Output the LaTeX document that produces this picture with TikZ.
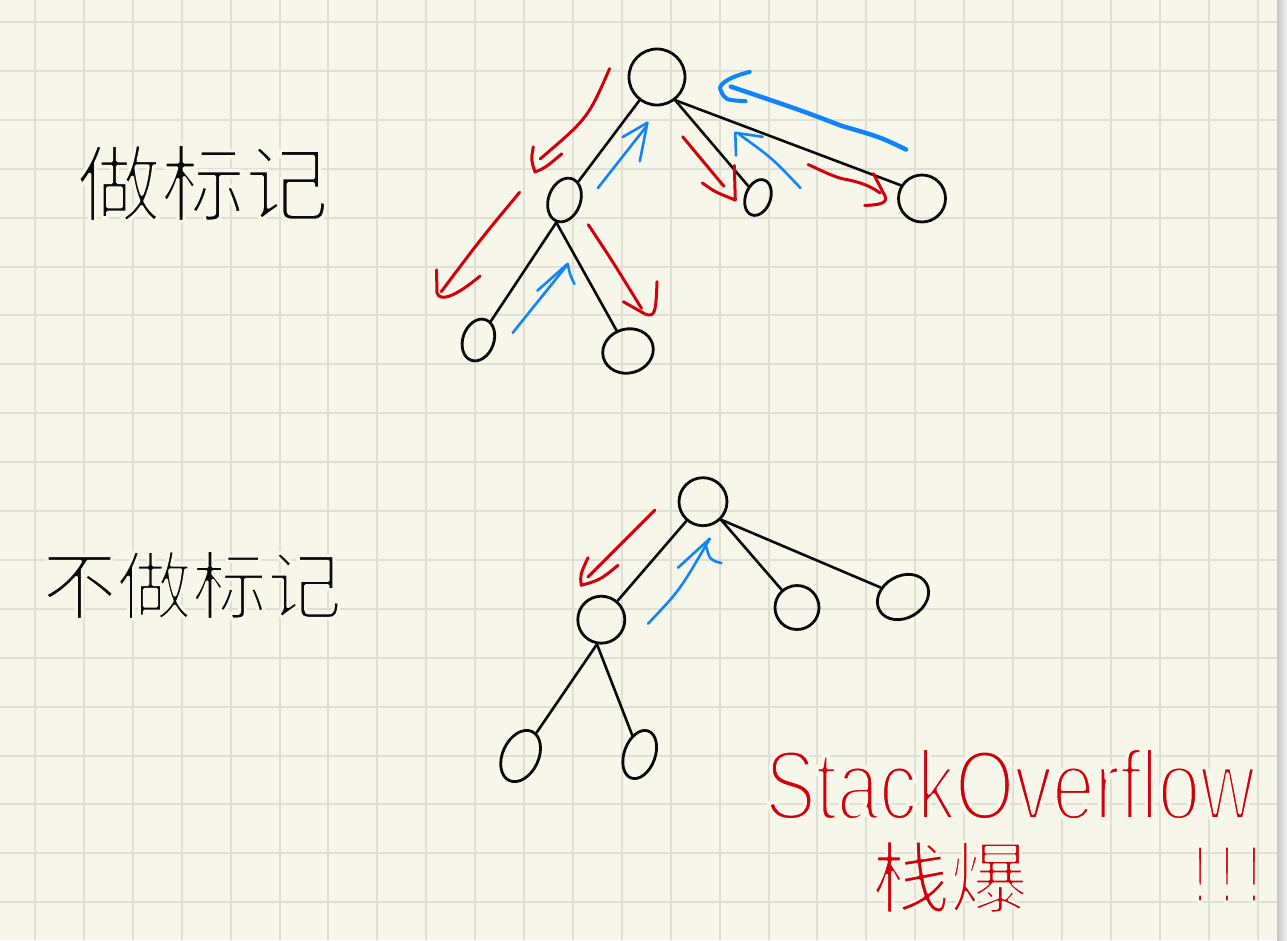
\documentclass[tikz,border=0pt]{standalone}
\usepackage{fontspec}
\usepackage{graphicx}
\usetikzlibrary{shapes.geometric}
\newfontfamily\cjk{Noto Sans CJK SC}
\newfontfamily\latinhand{Liberation Sans}
\newcommand\erodeglyph[1]{\special{pdf:literal direct 2 Tr 1 j #1 w 0.9686 0.9647 0.9176 RG}}
\definecolor{paper}{RGB}{247,246,234}
\definecolor{gridc}{RGB}{223,223,211}
\definecolor{penred}{RGB}{210,0,10}
\definecolor{penblue}{RGB}{18,132,250}
\definecolor{ink}{RGB}{10,10,10}
\begin{document}
\begin{tikzpicture}[x=1pt,y=-1pt,
  nd/.style={draw=ink, line width=2.8pt, inner sep=0pt},
  edge/.style={draw=ink, line width=2.6pt, line cap=round},
  redstroke/.style={draw=penred, line width=3pt, line cap=round, line join=round},
  bluestroke/.style={draw=penblue, line width=2.6pt, line cap=round, line join=round},
  hand/.style={inner sep=0pt}
]
\useasboundingbox (0,0) rectangle (1287,940);
% paper
\fill[paper] (0,0) rectangle (1277,940);
\shade[left color=black!22, right color=black!6] (1277,0) rectangle (1287,940);
\foreach \i in {0,...,25} \draw[gridc, line width=2pt] ({35+48.9*\i},0) -- ({35+48.9*\i},940);
\foreach \j in {0,...,18} \draw[gridc, line width=2pt] (0,{22+48.9*\j}) -- (1277,{22+48.9*\j});

% labels
\node[hand, text=ink, font=\cjk\fontsize{84}{90}\selectfont] (t1) at (203,183) {\erodeglyph{3.2}做标记};
\node[hand, text=ink, font=\cjk\fontsize{75}{80}\selectfont] (t2) at (192,585) {\erodeglyph{3}不做标记};
\node[hand, text=penred] (so) at (1010,784) {\resizebox{490pt}{72pt}{\latinhand\fontsize{106}{110}\selectfont\erodeglyph{5}StackOverflow}};
\node[hand, text=penred, font=\cjk\fontsize{78}{84}\selectfont] (zb) at (950,877) {\erodeglyph{2.6}栈爆};
\node[hand, text=penred] (ex) at (1227,874) {\resizebox{64pt}{56pt}{\latinhand\fontsize{90}{96}\selectfont\erodeglyph{3.5}!\kern0.45em!\kern0.45em!}};

% top tree
\node[nd, circle, minimum size=56pt] (troot) at (657,77) {};
\node[nd, ellipse, minimum width=32pt, minimum height=45pt, rotate=-20] (tl) at (564.5,200) {};
\node[nd, ellipse, minimum width=25pt, minimum height=37pt, rotate=-20] (tm) at (758,197.5) {};
\node[nd, circle, minimum size=47pt] (tr) at (922,198.5) {};
\node[nd, ellipse, minimum width=31pt, minimum height=43pt, rotate=-20] (tll) at (478.4,340) {};
\node[nd, ellipse, minimum width=51pt, minimum height=44pt, rotate=15] (tlr) at (628,351) {};
\draw[edge] (troot) -- (tl);
\draw[edge] (troot.-52) -- (tm);
\draw[edge] (troot.-52) -- (tr.148);
\draw[edge] (tl.south) -- (tll);
\draw[edge] (tl.south) -- (tlr);

% bottom tree
\node[nd, circle, minimum size=48pt] (broot) at (703,501.7) {};
\node[nd, circle, minimum size=47pt] (bl) at (601.3,619.7) {};
\node[nd, circle, minimum size=44pt] (bm) at (797,607.5) {};
\node[nd, ellipse, minimum width=54pt, minimum height=42pt, rotate=30] (br) at (903,597) {};
\node[nd, ellipse, minimum width=36pt, minimum height=54pt, rotate=-25] (bll) at (520.6,756) {};
\node[nd, ellipse, minimum width=31pt, minimum height=50pt, rotate=-20] (blr) at (639.7,754.5) {};
\draw[edge] (broot) -- (bl);
\draw[edge] (broot.-45) -- (bm);
\draw[edge] (broot.-45) -- (br);
\draw[edge] (bl.-100) -- (bll);
\draw[edge] (bl.-100) -- (blr);

% red strokes, top tree
\draw[redstroke] (609.6,68.6) .. controls (588,118) .. (540.2,158.9);
\draw[redstroke] (533.3,146.8) .. controls (531,160) .. (535,172) .. controls (545,168) .. (561.8,153.8);
\draw[redstroke] (519.6,192.3) .. controls (480,240) .. (441.3,291.6);
\draw[redstroke] (436.5,269.9) -- (437,293) .. controls (440,302) and (455,297) .. (480.1,276);
\draw[redstroke] (588.3,224.7) .. controls (613,262) .. (641.5,308.4);
\draw[redstroke] (623.3,301.7) -- (645,314) .. controls (655,318) and (656,312) .. (657,281.6);
\draw[redstroke] (682.7,136.8) -- (723.9,186.3);
\draw[redstroke] (702.3,182.9) .. controls (715,192) .. (735.3,200) -- (734.3,165.5);
\draw[redstroke] (808.1,164.5) .. controls (825,172) and (835,178) .. (849,180) .. controls (862,183) and (870,186) .. (880.2,193);
\draw[redstroke] (864.7,205.4) .. controls (880,205) and (888,203) .. (885,196) -- (873.3,173.6);

% blue strokes, top tree
\draw[bluestroke] (597.9,188) -- (646,126.8);
\draw[bluestroke] (622.6,137.1) -- (647.4,122.7) -- (639.8,161.2);
\draw[bluestroke] (512.7,332.8) -- (566,266.5);
\draw[bluestroke] (537.4,290.6) -- (567.7,263.8) .. controls (570,275) .. (574.5,284);
\draw[bluestroke] (800.5,188) .. controls (772,158) .. (739.4,134.5);
\draw[bluestroke] (736,155.5) -- (735.3,132.8) -- (762.7,136.8);
\draw[bluestroke, line width=4.5pt] (906,149.5) .. controls (880,137) .. (842,126) .. controls (800,110) .. (730.8,86.6);
\draw[bluestroke, line width=4pt] (749.7,71.9) .. controls (725,78) and (718,86) .. (720.6,90) .. controls (725,100) .. (745.6,101.2);

% bottom tree strokes
\draw[redstroke] (654.7,510.3) -- (588,577);
\draw[redstroke] (588,557.7) .. controls (580,575) .. (581.3,585.3) .. controls (600,580) .. (618,565.3);
\draw[bluestroke] (648,623.7) .. controls (680,590) .. (709.7,538.7);
\draw[bluestroke] (678,567.7) -- (709.7,538.7);
\draw[bluestroke] (706.3,547) .. controls (710,560) .. (721.3,563);
\end{tikzpicture}
\end{document}
